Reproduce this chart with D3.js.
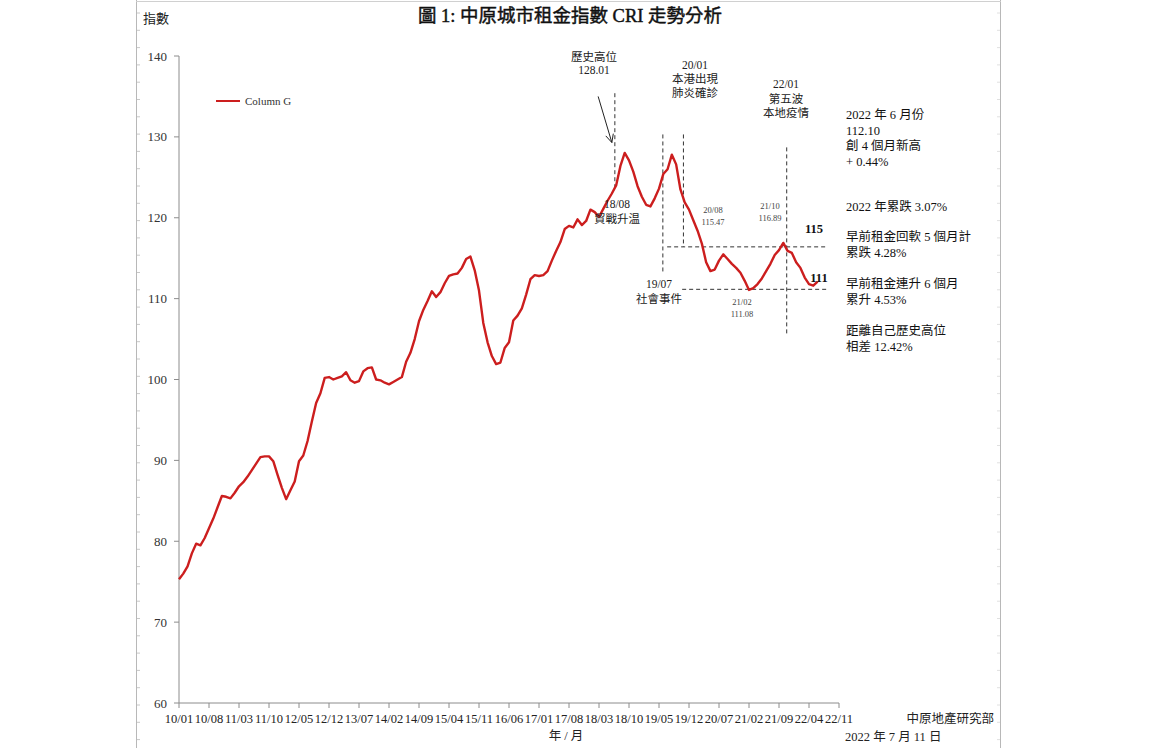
<!DOCTYPE html>
<html>
<head>
<meta charset="utf-8">
<script src="https://cdn.jsdelivr.net/npm/d3@7"></script>
<style>
  body { margin: 0; background: #fff; }
  text { font-family: "Liberation Serif", "Noto Sans CJK TC", serif; }
</style>
</head>
<body>
<div id="chart"></div>
<script>
// Configuration
const WIDTH = 1173;
const HEIGHT = 748;
const START_YEAR = 2010; // series starts 2010/01, monthly

// CRI monthly index, 2010/01 .. 2022/06
const cri = [
  75.3, 76.0, 76.9, 78.5, 79.7, 79.5, 80.4, 81.6, 82.8, 84.2, 85.6, 85.5,   // 2010
  85.3, 86.0, 86.8, 87.3, 88.0, 88.8, 89.6, 90.4, 90.5, 90.5, 89.9, 88.2,   // 2011
  86.6, 85.2, 86.3, 87.4, 89.9, 90.6, 92.4, 94.8, 97.1, 98.3, 100.2, 100.3, // 2012
  100.0, 100.2, 100.4, 100.9, 99.9, 99.6, 99.8, 101.0, 101.4, 101.5, 100.0, 99.9, // 2013
  99.6, 99.4, 99.7, 100.0, 100.3, 102.2, 103.3, 105.0, 107.2, 108.6, 109.7, 110.9, // 2014
  110.2, 110.8, 111.9, 112.8, 113.0, 113.1, 113.8, 114.9, 115.2, 113.5, 111.0, 107.0, // 2015
  104.6, 102.9, 101.9, 102.1, 103.9, 104.6, 107.3, 107.9, 108.8, 110.5, 112.4, 112.9, // 2016
  112.8, 112.9, 113.4, 114.7, 115.9, 117.0, 118.6, 119.0, 118.8, 119.8, 119.1, 119.6, // 2017
  121.0, 120.7, 120.1, 121.1, 122.1, 123.0, 124.0, 126.4, 128.01, 127.1, 125.7, 123.9, // 2018
  122.6, 121.6, 121.4, 122.4, 123.6, 125.4, 126.0, 127.8, 126.6, 123.5, 121.9, 121.0, // 2019
  119.7, 118.4, 116.8, 114.5, 113.4, 113.6, 114.7, 115.47, 114.9, 114.3, 113.8, 113.2, // 2020
  112.2, 111.08, 111.3, 111.8, 112.5, 113.4, 114.3, 115.4, 116.0, 116.89, 115.9, 115.65, // 2021
  114.5, 113.8, 112.6, 111.8, 111.6, 112.1                                    // 2022
];

const xTickLabels = ["10/01", "10/08", "11/03", "11/10", "12/05", "12/12", "13/07", "14/02",
  "14/09", "15/04", "15/11", "16/06", "17/01", "17/08", "18/03", "18/10", "19/05", "19/12",
  "20/07", "21/02", "21/09", "22/04", "22/11"];
const yTicks = [60, 70, 80, 90, 100, 110, 120, 130, 140];

const titleText = "圖 1:  中原城市租金指數 CRI 走勢分析";
const seriesName = "Column G";

const rightNotes = [
  ["2022 年 6 月份", "112.10", "創 4 個月新高", "+ 0.44%"],
  ["2022 年累跌 3.07%"],
  ["早前租金回軟 5 個月計", "累跌 4.28%"],
  ["早前租金連升 6 個月", "累升 4.53%"],
  ["距離自己歷史高位", "相差 12.42%"]
];

// "yy/mm" -> months since 2010/01
function monthIndex(label) {
  const [yy, mm] = label.split("/").map(Number);
  return (2000 + yy - START_YEAR) * 12 + (mm - 1);
}

const svg = d3.select("#chart")
  .append("svg")
  .attr("width", WIDTH)
  .attr("height", HEIGHT)
  .style("display", "block");

svg.append("rect").attr("width", WIDTH).attr("height", HEIGHT).attr("fill", "#fff");

// Page frame (document borders with ruler marks)
const frameColor = "#b8b8b8";
svg.append("line").attr("x1", 136.5).attr("x2", 136.5).attr("y1", 0).attr("y2", HEIGHT)
  .attr("stroke", frameColor);
svg.append("line").attr("x1", 1000.5).attr("x2", 1000.5).attr("y1", 0).attr("y2", HEIGHT)
  .attr("stroke", frameColor);
svg.append("line").attr("x1", 136).attr("x2", 1001).attr("y1", 1.5).attr("y2", 1.5)
  .attr("stroke", "#d0d0d0");
d3.range(13, HEIGHT, 17.3).forEach(yy => {
  svg.append("line").attr("x1", 137).attr("x2", 140).attr("y1", yy).attr("y2", yy)
    .attr("stroke", "#c8c8c8");
  svg.append("line").attr("x1", 997).attr("x2", 1000).attr("y1", yy).attr("y2", yy)
    .attr("stroke", "#e0e0e0");
});

// Scales
const x = d3.scaleLinear().domain([0, monthIndex("22/11")]).range([179, 839]);
const y = d3.scaleLinear().domain([60, 140]).range([703, 56]);

const axisColor = "#8c8c8c";

// Y axis
svg.append("line").attr("x1", x(0)).attr("x2", x(0)).attr("y1", y(140)).attr("y2", y(60))
  .attr("stroke", axisColor);
yTicks.forEach(t => {
  svg.append("line").attr("x1", x(0) - 5).attr("x2", x(0)).attr("y1", y(t)).attr("y2", y(t))
    .attr("stroke", axisColor);
  svg.append("text").attr("x", 167).attr("y", y(t) + 4.5)
    .attr("text-anchor", "end").attr("font-size", 13).attr("fill", "#333")
    .text(t);
});

// X axis
svg.append("line").attr("x1", x(0)).attr("x2", x(monthIndex("22/11")))
  .attr("y1", y(60)).attr("y2", y(60)).attr("stroke", axisColor);
xTickLabels.forEach(lbl => {
  const xx = x(monthIndex(lbl));
  svg.append("line").attr("x1", xx).attr("x2", xx).attr("y1", y(60)).attr("y2", y(60) + 5)
    .attr("stroke", axisColor);
  svg.append("text").attr("x", xx).attr("y", 723)
    .attr("text-anchor", "middle").attr("font-size", 12.5).attr("fill", "#222")
    .text(lbl);
});

// Axis titles
svg.append("text").attr("x", 143).attr("y", 23).attr("font-size", 13).attr("fill", "#222")
  .text("指數");
svg.append("text").attr("x", 566).attr("y", 740).attr("text-anchor", "middle")
  .attr("font-size", 12.5).attr("fill", "#222").text("年 / 月");

// Title
svg.append("text").attr("x", 570).attr("y", 22).attr("text-anchor", "middle")
  .attr("font-size", 18.5).attr("fill", "#111")
  .attr("stroke", "#111").attr("stroke-width", 0.45)
  .attr("textLength", 304).attr("lengthAdjust", "spacingAndGlyphs")
  .text(titleText);

// Legend
const lineColor = "#cc1e1e";
svg.append("line").attr("x1", 216).attr("x2", 240).attr("y1", 101).attr("y2", 101)
  .attr("stroke", lineColor).attr("stroke-width", 2);
svg.append("text").attr("x", 245).attr("y", 105).attr("font-size", 11).attr("fill", "#333")
  .text(seriesName);

// Annotation guide lines
const dashColor = "#333";
function dashed(x1, y1, x2, y2) {
  svg.append("line")
    .attr("x1", x(x1)).attr("y1", y(y1)).attr("x2", x(x2)).attr("y2", y(y2))
    .attr("stroke", dashColor).attr("stroke-width", 1).attr("stroke-dasharray", "4,3");
}
dashed(101.7, 135.4, 101.7, 123.4);   // 18/08
dashed(112.9, 130.3, 112.9, 113.3);   // 19/07
dashed(117.7, 130.3, 117.7, 116.4);   // 20/01
dashed(141.8, 128.7, 141.8, 105.5);   // 22/01
dashed(113.9, 116.4, 151.2, 116.4);   // upper level
dashed(117.4, 111.15, 151.2, 111.15); // lower level

// Arrow pointing to the historic high
(function () {
  const x1 = x(97.8), y1 = y(135.0), x2 = x(101.0), y2 = y(129.3);
  svg.append("line").attr("x1", x1).attr("y1", y1).attr("x2", x2).attr("y2", y2)
    .attr("stroke", "#222").attr("stroke-width", 1);
  const ang = Math.atan2(y2 - y1, x2 - x1);
  [-0.45, 0.45].forEach(da => {
    svg.append("line").attr("x1", x2).attr("y1", y2)
      .attr("x2", x2 - 9 * Math.cos(ang + da)).attr("y2", y2 - 9 * Math.sin(ang + da))
      .attr("stroke", "#222").attr("stroke-width", 1);
  });
})();

// CRI line
const line = d3.line()
  .x((d, i) => x(i))
  .y(d => y(d))
  .curve(d3.curveLinear);

svg.append("path")
  .datum(cri)
  .attr("d", line)
  .attr("fill", "none")
  .attr("stroke", lineColor)
  .attr("stroke-width", 2.4)
  .attr("stroke-linejoin", "round");

// Text annotations
function label(lines, cx, baseline, step, size, opts = {}) {
  lines.forEach((t, i) => {
    svg.append("text")
      .attr("x", cx).attr("y", baseline + i * step)
      .attr("text-anchor", opts.anchor || "middle")
      .attr("font-size", size)
      .attr("font-weight", opts.weight || "normal")
      .attr("fill", opts.fill || "#222")
      .text(t);
  });
}
label(["歷史高位", "128.01"], 594, 61, 13, 11.5);
label(["20/01", "本港出現", "肺炎確診"], 695, 69, 14, 11.5);
label(["22/01", "第五波", "本地疫情"], 786, 88, 14.5, 11.5);
label(["18/08", "貿戰升温"], 617, 208, 14.5, 11.5);
label(["19/07", "社會事件"], 659, 288, 15, 11.5);
label(["20/08", "115.47"], 713, 213, 11.5, 8.5, { fill: "#444" });
label(["21/10", "116.89"], 770, 209, 11.5, 8.5, { fill: "#444" });
label(["21/02", "111.08"], 742, 305, 12, 8.5, { fill: "#444" });
label(["115"], 814, 233, 0, 12.5, { weight: "bold", fill: "#111" });
label(["111"], 819, 282, 0, 12.5, { weight: "bold", fill: "#111" });

// Right-hand notes
const noteStarts = [119, 211, 241, 288, 335];
rightNotes.forEach((grp, gi) => {
  label(grp, 846, noteStarts[gi], 15.5, 12.5, { anchor: "start", fill: "#111" });
});

// Source & date
svg.append("text").attr("x", 994).attr("y", 723).attr("text-anchor", "end")
  .attr("font-size", 12.5).attr("fill", "#222").text("中原地產研究部");
svg.append("text").attr("x", 845).attr("y", 741)
  .attr("font-size", 12.5).attr("fill", "#222").text("2022 年 7 月 11 日");
</script>
</body>
</html>
